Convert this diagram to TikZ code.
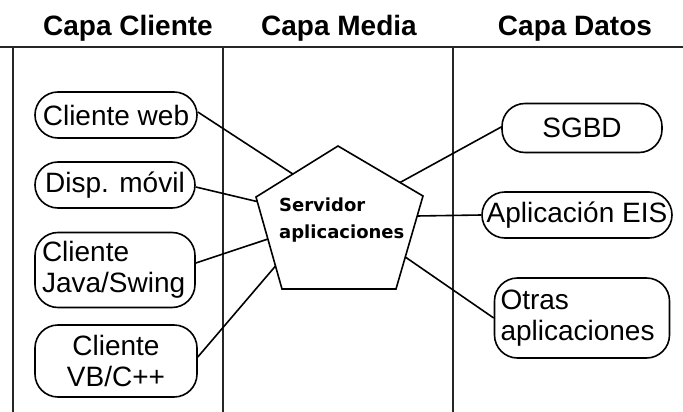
\documentclass[tikz,border=0pt]{standalone}
\usepackage{fontspec}
\setmainfont{Liberation Sans}
\newfontfamily\srvfont{DejaVu Sans}
\usetikzlibrary{calc}
\begin{document}
\begin{tikzpicture}[x=1pt,y=-1pt,
  lyr/.style={line width=1.8pt, draw=black!85},
  pill/.style={draw, line width=1.6pt, rounded corners=23pt, inner sep=0pt, font=\fontsize{28}{31}\selectfont},
  hdr/.style={font=\bfseries\fontsize{28}{31}\selectfont, anchor=base, inner sep=0pt},
  link/.style={line width=1.6pt, line join=miter}]
\useasboundingbox (0,0) rectangle (683,412);
% headers
\node[hdr] (h1) at (128,36) {Capa Cliente};
\node[hdr] (h2) at (339,36) {Capa Media};
\node[hdr] (h3) at (575,36) {Capa Datos};
% layer lines
\coordinate (hl) at (0,47);
\coordinate (hr) at (683,47);
\coordinate (v1t) at (13,47);  \coordinate (v1b) at (13,412);
\coordinate (v2t) at (223,47); \coordinate (v2b) at (223,412);
\coordinate (v3t) at (453,47); \coordinate (v3b) at (453,412);
\draw[lyr] (hl) -- (hr);
\draw[lyr] (v1t) -- (v1b);
\draw[lyr] (v2t) -- (v2b);
\draw[lyr] (v3t) -- (v3b);
% client nodes
\node[pill, minimum width=162pt, minimum height=46pt] (web) at (116,115) {Cliente web};
\node[pill, minimum width=160pt, minimum height=46pt] (movil) at (115,185) {Disp. móvil};
\node[pill, text width=146pt, inner xsep=7pt, align=left, minimum height=75pt] (java) at (115,270) {Cliente\\Java/Swing};
\node[pill, text width=148pt, inner xsep=7pt, align=center, minimum height=72pt] (vb) at (116,361) {Cliente\\VB/C++};
% data nodes
\node[pill, minimum width=160pt, minimum height=49pt] (sgbd) at (582,128) {SGBD};
\node[pill, minimum width=190pt, minimum height=46pt] (eis) at (577,215) {Aplicación EIS};
\node[pill, text width=163pt, inner xsep=6pt, align=left, minimum height=80pt] (otras) at (582,318) {Otras\\aplicaciones};
% server pentagon
\coordinate (T) at (338,146);
\coordinate (UL) at (256,197);
\coordinate (UR) at (423,196);
\coordinate (BL) at (282,289);
\coordinate (BR) at (396,289);
\draw[link] (T) -- (UR) -- (BR) -- (BL) -- (UL) -- cycle;
\node[anchor=north west, inner sep=0pt, align=left, font=\srvfont\bfseries\fontsize{18}{27}\selectfont] (srv) at (279,198) {Servidor\\aplicaciones};
% edge points
\coordinate (pweb) at ($(T)!0.55!(UL)$);
\coordinate (pmov) at ($(UL)!0.05!(BL)$);
\coordinate (pjava) at ($(UL)!0.457!(BL)$);
\coordinate (pvb) at ($(UL)!0.75!(BL)$);
\coordinate (psgbd) at ($(T)!0.73!(UR)$);
\coordinate (peis) at ($(UR)!0.215!(BR)$);
\coordinate (potras) at ($(UR)!0.656!(BR)$);
% connectors
\draw[link] ($(web.east)+(0,-3)$) -- (pweb);
\draw[link] ($(movil.east)+(0,2)$) -- (pmov);
\draw[link] ($(java.east)+(0,-7)$) -- (pjava);
\draw[link] ($(vb.east)+(0,-4)$) -- (pvb);
\draw[link] ($(sgbd.west)+(0,-1)$) -- (psgbd);
\draw[link] (eis.west) -- (peis);
\draw[link] (otras.west) -- (potras);
\end{tikzpicture}
\end{document}
